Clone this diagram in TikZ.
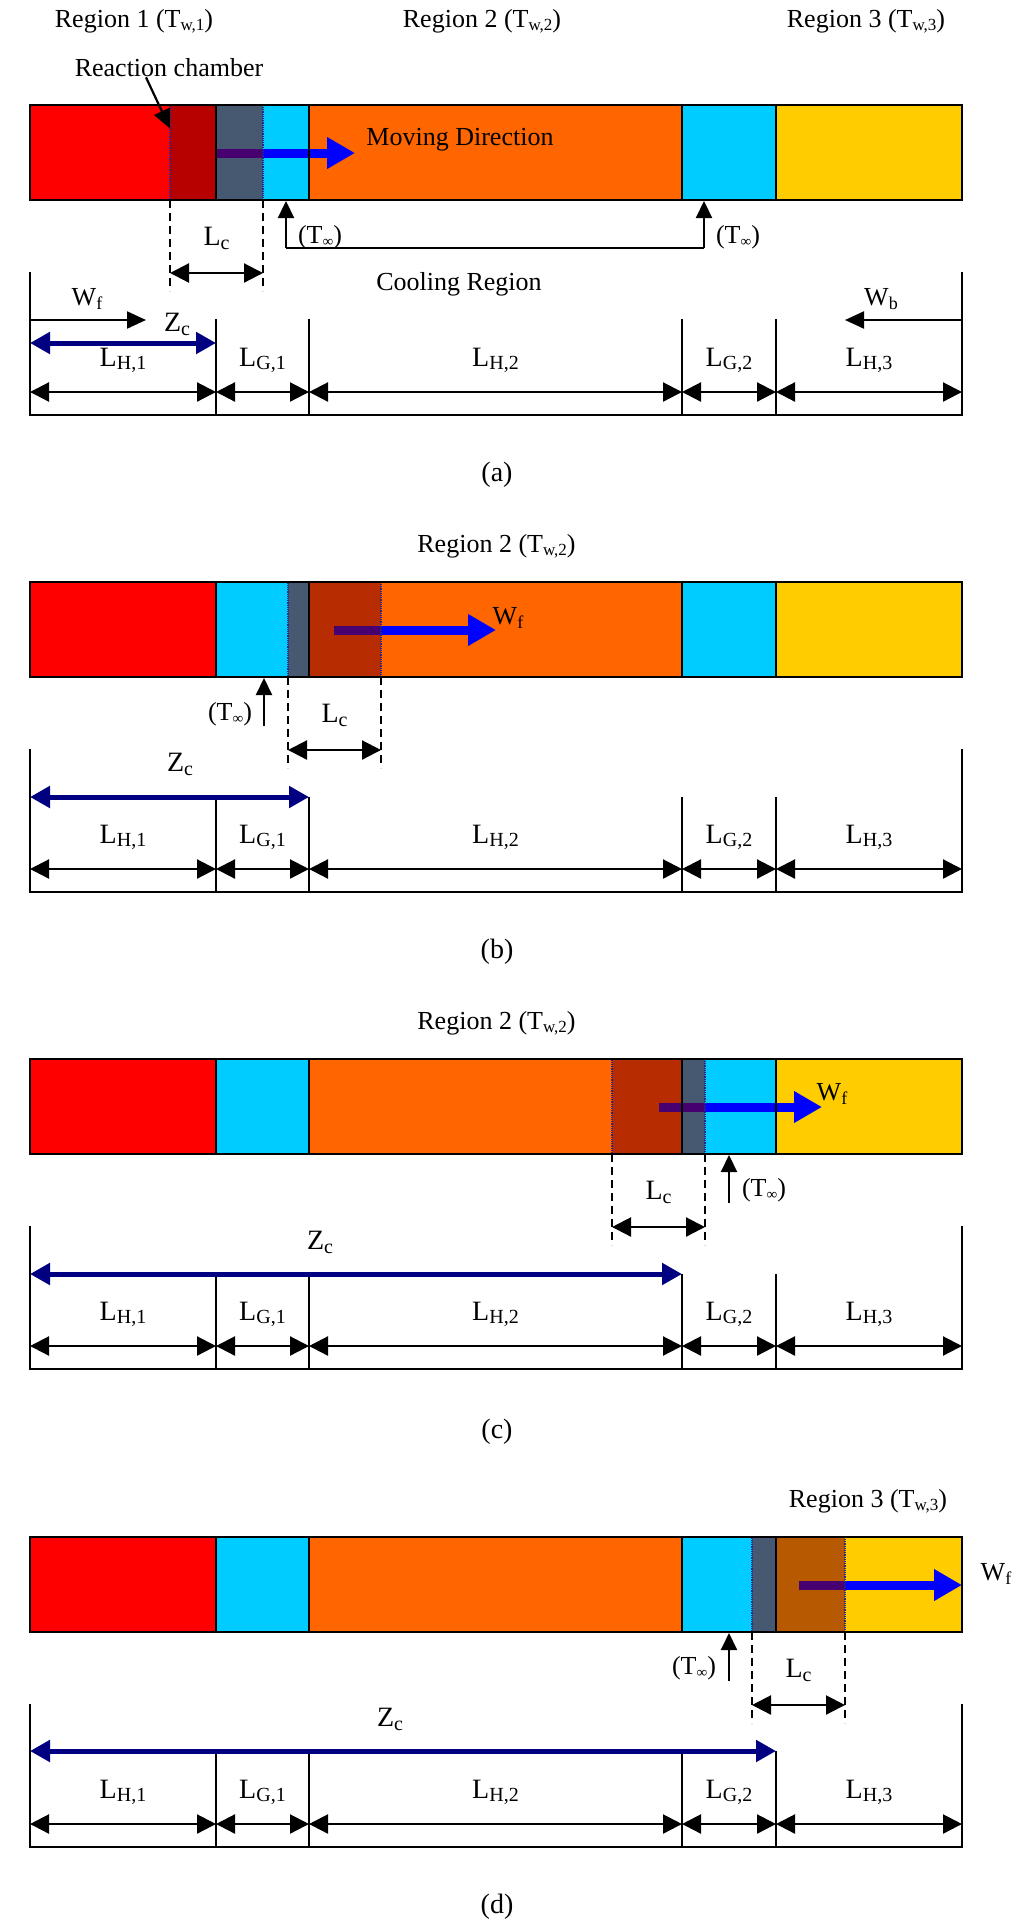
\documentclass[tikz,border=0pt]{standalone}
\usepackage{fontspec}
\setmainfont{Liberation Serif}
\usetikzlibrary{arrows.meta}
\definecolor{cRed}{RGB}{255,0,0}
\definecolor{cCyan}{RGB}{0,204,255}
\definecolor{cOrange}{RGB}{255,102,0}
\definecolor{cYellow}{RGB}{255,204,0}
\definecolor{cBlue}{RGB}{0,0,255}
\definecolor{cNavy}{RGB}{0,0,128}
\definecolor{cOver}{RGB}{128,0,0}
\definecolor{cDot}{RGB}{40,40,140}
\newcommand\mysub[3]{\raisebox{-#1}{\fontsize{#2}{#2}\selectfont #3}}
\newcommand\Lab[1]{L\mysub{3pt}{20}{#1}}
\newcommand\Tinf{(T\mysub{3pt}{15}{∞})}
\tikzset{
  barline/.style={line width=2.5pt, draw=black},
  thinline/.style={line width=2.2pt, draw=black},
  dimarrow/.style={line width=2.2pt, {Triangle[length=19pt,width=19pt]}-{Triangle[length=19pt,width=19pt]}},
  zcarrow/.style={line width=5pt, draw=cNavy, {Triangle[length=20pt,width=21pt]}-{Triangle[length=20pt,width=21pt]}},
  wfarrow/.style={line width=9pt, draw=cBlue, -{Triangle[length=28pt,width=30pt]}},
  blackarrow/.style={line width=2.2pt, -{Triangle[length=19pt,width=17pt]}},
  tinfarrow/.style={line width=2.2pt, -{Triangle[length=17pt,width=16pt]}},
  dashedv/.style={line width=2pt, dash pattern=on 8pt off 5pt},
  chamber/.style={fill=cOver, fill opacity=0.56, draw=cDot, densely dotted, line width=1.2pt, minimum width=93pt, minimum height=95pt, inner sep=0pt, outer sep=0pt, anchor=north west},
  txt/.style={font=\fontsize{26}{30}\selectfont, inner sep=0pt},
  dimtxt/.style={font=\fontsize{28}{32}\selectfont, inner sep=0pt},
}
% #1 id, #2 top, #3 chamber left x, #4 arrow start x, #5 arrow tip x
\newcommand\PanelBar[5]{%
  \fill[cRed] (30,#2) rectangle (216,#2+95);
  \fill[cCyan] (216,#2) rectangle (309,#2+95);
  \fill[cOrange] (309,#2) rectangle (682,#2+95);
  \fill[cCyan] (682,#2) rectangle (776,#2+95);
  \fill[cYellow] (776,#2) rectangle (962,#2+95);
  \coordinate (#1-ws) at (#4,#2+48);
  \coordinate (#1-wt) at (#5,#2+48);
  \draw[wfarrow] (#1-ws) -- (#1-wt);
  \node[chamber] (#1-ch) at (#3,#2) {};
  \draw[barline] (30,#2) rectangle (962,#2+95);
  \foreach \x in {216,309,682,776} {\draw[barline] (\x,#2) -- (\x,#2+95);}
  \coordinate (#1-c1) at (#3,#2+95);
  \coordinate (#1-c2) at (#3+93,#2+95);
  \coordinate (#1-c1b) at (#3,#2+186);
  \coordinate (#1-c2b) at (#3+93,#2+186);
  \coordinate (#1-c1m) at (#3,#2+168);
  \coordinate (#1-c2m) at (#3+93,#2+168);
  \draw[dashedv] (#1-c1) -- (#1-c1b);
  \draw[dashedv] (#1-c2) -- (#1-c2b);
  \draw[dimarrow] (#1-c1m) -- (#1-c2m);
  \node[dimtxt] (#1-lc) at (#3+46.5,#2+133) {L\mysub{4pt}{20}{c}};
}
% #1 id, #2 top, #3 Zc end x, #4 Zc y, #5 inner verticals top y
\newcommand\PanelDims[5]{%
  \coordinate (#1-l0) at (30,#2+167);
  \coordinate (#1-r0) at (962,#2+167);
  \coordinate (#1-bl) at (30,#2+310);
  \coordinate (#1-br) at (962,#2+310);
  \draw[thinline] (#1-l0) -- (#1-bl) -- (#1-br) -- (#1-r0);
  \foreach \x in {216,309,682,776} {\draw[thinline] (\x,#5) -- (\x,#2+310);}
  \foreach \x [count=\i from 0] in {30,216,309,682,776,962} {\coordinate (#1-d\i) at (\x,#2+287);}
  \draw[dimarrow] (#1-d0) -- (#1-d1);
  \draw[dimarrow] (#1-d1) -- (#1-d2);
  \draw[dimarrow] (#1-d2) -- (#1-d3);
  \draw[dimarrow] (#1-d3) -- (#1-d4);
  \draw[dimarrow] (#1-d4) -- (#1-d5);
  \node[dimtxt] (#1-lh1) at (123,#2+255) {\Lab{H,1}};
  \node[dimtxt] (#1-lg1) at (262.5,#2+255) {\Lab{G,1}};
  \node[dimtxt] (#1-lh2) at (495.5,#2+255) {\Lab{H,2}};
  \node[dimtxt] (#1-lg2) at (729,#2+255) {\Lab{G,2}};
  \node[dimtxt] (#1-lh3) at (869,#2+255) {\Lab{H,3}};
  \coordinate (#1-z0) at (30,#4);
  \coordinate (#1-z1) at (#3,#4);
  \draw[zcarrow] (#1-z0) -- (#1-z1);
}
\begin{document}
\begin{tikzpicture}[x=1pt,y=-1pt]
\fill[white] (0,0) rectangle (1024,1931);
\useasboundingbox (0,0) rectangle (1024,1931);

%================ (a) ================
\node[txt] (a-r1) at (134,21) {Region 1 (T\mysub{3pt}{17}{w,1})};
\node[txt] (a-r2) at (482,21) {Region 2 (T\mysub{3pt}{17}{w,2})};
\node[txt] (a-r3) at (866,21) {Region 3 (T\mysub{3pt}{17}{w,3})};
\node[txt] (a-rc) at (169,68) {Reaction chamber};
\PanelBar{a}{105}{170}{216}{355}
\draw[blackarrow] ([xshift=-23pt]a-rc.south) -- ([yshift=24pt]a-ch.west);
\node[txt] (a-md) at (460,140) {Moving Direction};
\coordinate (a-tt1) at (286,201);
\coordinate (a-tt2) at (704,201);
\coordinate (a-tb1) at (286,248);
\coordinate (a-tb2) at (704,248);
\draw[thinline] (a-tb1) -- (a-tb2);
\draw[tinfarrow] (a-tb1) -- (a-tt1);
\draw[tinfarrow] (a-tb2) -- (a-tt2);
\node[txt] (a-ti1) at (320,237) {\Tinf};
\node[txt] (a-ti2) at (738,237) {\Tinf};
\node[txt] (a-cr) at (459,284) {Cooling Region};
\PanelDims{a}{105}{216}{343}{319}
\coordinate (a-wf0) at (30,320);
\coordinate (a-wf1) at (146,320);
\draw[blackarrow] (a-wf0) -- (a-wf1);
\node[txt] (a-wf) at (87,299) {W\mysub{4pt}{18}{f}};
\coordinate (a-wb0) at (962,320);
\coordinate (a-wb1) at (845,320);
\draw[blackarrow] (a-wb0) -- (a-wb1);
\node[txt] (a-wb) at (881,299) {W\mysub{4pt}{18}{b}};
\node[dimtxt] (a-zc) at (177,324) {Z\mysub{4pt}{20}{c}};
\node[dimtxt] (a-cap) at (497,475) {(a)};

%================ (b) ================
\node[txt] (b-r2) at (496.5,546) {Region 2 (T\mysub{3pt}{17}{w,2})};
\PanelBar{b}{582}{288}{334}{496}
\node[txt] (b-wf) at (508,618) {W\mysub{4pt}{18}{f}};
\coordinate (b-tb) at (264,726);
\coordinate (b-tt) at (264,678);
\draw[tinfarrow] (b-tb) -- (b-tt);
\node[txt] (b-ti) at (230,714) {\Tinf};
\PanelDims{b}{582}{309}{797}{797}
\node[dimtxt] (b-zc) at (180,764) {Z\mysub{4pt}{20}{c}};
\node[dimtxt] (b-cap) at (497,952) {(b)};

%================ (c) ================
\node[txt] (c-r2) at (496.5,1023) {Region 2 (T\mysub{3pt}{17}{w,2})};
\PanelBar{c}{1059}{612}{659}{822}
\node[txt] (c-wf) at (832,1094) {W\mysub{4pt}{18}{f}};
\coordinate (c-tb) at (729,1203);
\coordinate (c-tt) at (729,1155);
\draw[tinfarrow] (c-tb) -- (c-tt);
\node[txt] (c-ti) at (764,1190) {\Tinf};
\PanelDims{c}{1059}{682}{1274}{1274}
\node[dimtxt] (c-zc) at (320,1242) {Z\mysub{4pt}{20}{c}};
\node[dimtxt] (c-cap) at (497,1432) {(c)};

%================ (d) ================
\node[txt] (d-r3) at (868,1501) {Region 3 (T\mysub{3pt}{17}{w,3})};
\PanelBar{d}{1537}{752}{799}{962}
\node[txt] (d-wf) at (996,1574) {W\mysub{4pt}{18}{f}};
\coordinate (d-tb) at (729,1681);
\coordinate (d-tt) at (729,1633);
\draw[tinfarrow] (d-tb) -- (d-tt);
\node[txt] (d-ti) at (694,1668) {\Tinf};
\PanelDims{d}{1537}{776}{1751}{1751}
\node[dimtxt] (d-zc) at (390,1719) {Z\mysub{4pt}{20}{c}};
\node[dimtxt] (d-cap) at (497,1907) {(d)};
\end{tikzpicture}
\end{document}
